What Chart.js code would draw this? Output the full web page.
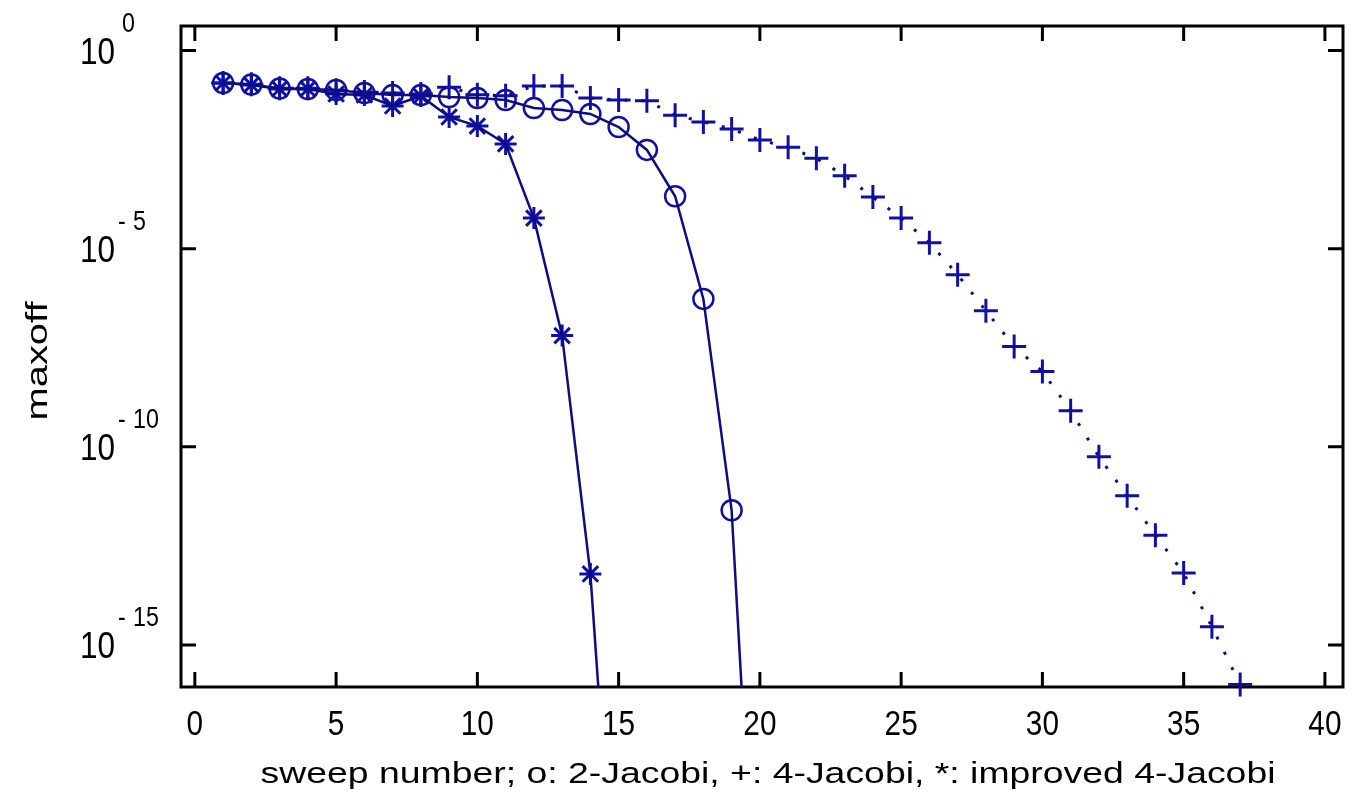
<!DOCTYPE html>
<html><head><meta charset="utf-8">
<script src="https://cdn.jsdelivr.net/npm/chart.js@4.4.0/dist/chart.umd.min.js"></script>
<style>html,body{margin:0;padding:0;background:#fff;}#wrap{width:1358px;height:791px;position:relative;}</style>
</head><body><div id="wrap"><canvas id="c"></canvas></div>
<script>
// ---- data ----
const sweeps2 = [1,2,3,4,5,6,7,8,9,10,11,12,13,14,15,16,17,18,19,20];
const maxoff2 = [0.151,0.139,0.110,0.107,0.101,0.0847,0.0753,0.0753,0.0671,0.0632,0.0564,0.0354,0.0315,0.0250,0.0117,3.1e-3,2.1e-4,5.4e-7,2.5e-12,4.9e-25];

const sweeps4 = [1,2,3,4,5,6,7,8,9,10,11,12,13,14,15,16,17,18,19,20,21,22,23,24,25,26,27,28,29,30,31,32,33,34,35,36,37];
const maxoff4 = [0.151,0.141,0.112,0.112,0.100,0.0891,0.0851,0.0794,0.118,0.0759,0.0724,0.128,0.128,0.0631,0.0562,0.0537,0.0234,0.0158,0.0105,5.5e-3,3.6e-3,1.9e-3,6.9e-4,2.0e-4,5.9e-5,1.4e-5,2.2e-6,2.7e-7,3.4e-8,7.9e-9,8.1e-10,5.6e-11,5.8e-12,5.9e-13,6.5e-14,2.9e-15,1.0e-16];

const sweepsImp = [1,2,3,4,5,6,7,8,9,10,11,12,13,14,15];
const maxoffImp = [0.151,0.135,0.107,0.107,0.0798,0.0753,0.0398,0.0711,0.0210,0.0124,4.4e-3,5.9e-5,6.4e-8,6.2e-14,4.4e-24];

const xTicks = [0,5,10,15,20,25,30,35,40];
const xTickLabels = ['0','5','10','15','20','25','30','35','40'];
const yTicks = [1,1e-5,1e-10,1e-15];
const yTickBase = '10';
const yTickExponents = ['0','-5','-10','-15'];
const xTitle = 'sweep number; o: 2-Jacobi, +: 4-Jacobi, *: improved 4-Jacobi';
const yTitle = 'maxoff';

const X_MIN = -0.49, X_MAX = 40.64;
const Y_MIN = 8.7e-17, Y_MAX = 4.15;

// ---- styling ----
const LINE = '#0c0c86';
const MARK = '#1010a6';
const FONT = '"Liberation Sans", Arial, Helvetica, sans-serif';

function pts(xs, ys){ return xs.map((x,i)=>({x:x, y:ys[i]})); }

function drawScaled(ctx, text, x, y, px, sx, align){
  ctx.save();
  ctx.font = px + 'px ' + FONT;
  ctx.textAlign = 'left';
  ctx.textBaseline = 'alphabetic';
  const w = ctx.measureText(text).width * sx;
  let x0 = x;
  if (align === 'center') x0 = x - w/2; else if (align === 'right') x0 = x - w;
  ctx.translate(x0, y);
  ctx.scale(sx, 1);
  ctx.fillText(text, 0, 0);
  ctx.restore();
}
function fitScale(ctx, text, px, width){
  ctx.save(); ctx.font = px + 'px ' + FONT;
  const w = ctx.measureText(text).width; ctx.restore();
  return width / w;
}

const matlabAxes = {
  id: 'matlabAxes',
  beforeDraw(chart){
    const ctx = chart.ctx;
    ctx.save(); ctx.fillStyle = '#fff'; ctx.fillRect(0,0,chart.width,chart.height); ctx.restore();
  },
  beforeDatasetsDraw(chart){
    const ctx = chart.ctx, a = chart.chartArea, xs = chart.scales.x, ys = chart.scales.y;
    const TL = 15;
    ctx.save();
    ctx.strokeStyle = '#000';
    ctx.lineWidth = 3;
    ctx.strokeRect(a.left, a.top, a.right - a.left, a.bottom - a.top);
    ctx.beginPath();
    xTicks.forEach(v => {
      const p = xs.getPixelForValue(v);
      ctx.moveTo(p, a.bottom); ctx.lineTo(p, a.bottom - TL);
      ctx.moveTo(p, a.top); ctx.lineTo(p, a.top + TL);
    });
    yTicks.forEach(v => {
      const p = ys.getPixelForValue(v);
      ctx.moveTo(a.left, p); ctx.lineTo(a.left + TL, p);
      ctx.moveTo(a.right, p); ctx.lineTo(a.right - TL, p);
    });
    ctx.stroke();
    ctx.fillStyle = '#000';
    // x tick labels
    xTicks.forEach((v,i) => {
      drawScaled(ctx, xTickLabels[i], xs.getPixelForValue(v), a.bottom + 48, 35, 0.85, 'center');
    });
    // y tick labels 10^e
    yTicks.forEach((v,i) => {
      const p = ys.getPixelForValue(v);
      drawScaled(ctx, yTickBase, 115, p + 13.5, 37.7, 0.835, 'right');
      const e = yTickExponents[i];
      if (e[0] === '-') {
        drawScaled(ctx, '-', 118, p - 18.5, 28, 0.83, 'left');
        drawScaled(ctx, e.slice(1), 133, p - 18.5, 28, 0.83, 'left');
      } else {
        drawScaled(ctx, e, 122, p - 18.5, 28, 0.83, 'left');
      }
    });
    // x title
    const sx = fitScale(ctx, xTitle, 30, 1015);
    drawScaled(ctx, xTitle, 768, 783, 30, sx, 'center');
    // y title
    const sy = fitScale(ctx, yTitle, 30, 119);
    ctx.save();
    ctx.translate(47, 361);
    ctx.rotate(-Math.PI/2);
    drawScaled(ctx, yTitle, 0, 0, 30, sy, 'center');
    ctx.restore();
    ctx.restore();
  }
};

function lineSet(xs, ys, dash, w){
  return { data: pts(xs, ys), borderColor: LINE, borderWidth: w, borderDash: dash,
    borderCapStyle: 'butt', pointRadius: 0, tension: 0, fill: false, clip: 0 };
}
function markSet(xs, ys, style, r, bw){
  return { data: pts(xs, ys), showLine: false, pointStyle: style, pointRadius: r,
    pointBorderColor: MARK, pointBackgroundColor: 'rgba(0,0,0,0)', pointBorderWidth: bw,
    borderColor: MARK, clip: false };
}

new Chart(document.getElementById('c'), {
  type: 'line',
  data: { datasets: [
    lineSet(sweeps4, maxoff4, [3, 14], 3),
    lineSet(sweeps2, maxoff2, [], 2.5),
    lineSet(sweepsImp, maxoffImp, [], 2.5),
    markSet(sweeps4, maxoff4, 'cross', 12, 3),
    markSet(sweeps2, maxoff2, 'circle', 10, 2.5),
    markSet(sweepsImp, maxoffImp, 'star', 11, 3)
  ]},
  options: {
    responsive: true, maintainAspectRatio: false, animation: false, events: [],
    layout: { padding: { top: 26, right: 1, left: 0, bottom: 0 } },
    plugins: { legend: { display: false }, tooltip: { enabled: false }, title: { display: false } },
    scales: {
      x: { type: 'linear', min: X_MIN, max: X_MAX,
        ticks: { display: false }, grid: { display: false }, border: { display: false },
        afterFit(s){ s.height = 104; } },
      y: { type: 'logarithmic', min: Y_MIN, max: Y_MAX,
        ticks: { display: false }, grid: { display: false }, border: { display: false },
        afterFit(s){ s.width = 181; } }
    }
  },
  plugins: [matlabAxes]
});
</script></body></html>
